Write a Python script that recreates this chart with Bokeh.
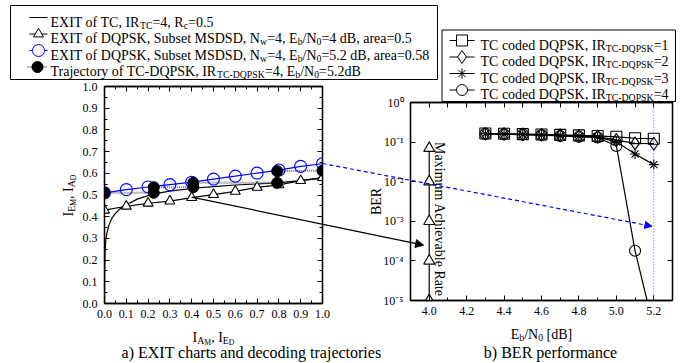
import math
from bokeh.plotting import figure
from bokeh.models import (Range1d, LinearAxis, LogAxis, FixedTicker, CustomJSTickFormatter,
                          NumeralTickFormatter, Arrow, NormalHead, Span)
from bokeh.core.properties import value
from bokeh.embed import file_html
from bokeh.resources import INLINE

# ---------------- data: a) EXIT chart ----------------
exit_ia = [0.0, 0.1, 0.2, 0.3, 0.4, 0.5, 0.6, 0.7, 0.8, 0.9, 1.0]
exit_dqpsk_4db = [0.430, 0.448, 0.462, 0.472, 0.488, 0.502, 0.517, 0.535, 0.547, 0.566, 0.580]
exit_dqpsk_52db = [0.510, 0.525, 0.537, 0.548, 0.559, 0.573, 0.587, 0.601, 0.615, 0.632, 0.644]
exit_tc_ie = [0.0, 0.0005, 0.002, 0.005, 0.01, 0.02, 0.035, 0.05, 0.075, 0.1, 0.15, 0.2,
              0.226, 0.3, 0.407, 0.5, 0.6, 0.7, 0.792, 0.9, 1.0]
exit_tc_ia = [0.0, 0.12, 0.22, 0.28, 0.32, 0.36, 0.395, 0.415, 0.44, 0.455, 0.481, 0.497,
              0.505, 0.518, 0.531, 0.539, 0.546, 0.551, 0.556, 0.566, 0.578]
traj_x = [0.0, 0.226, 0.226, 0.407, 0.407, 0.792, 0.792, 1.0]
traj_y = [0.510, 0.510, 0.536, 0.536, 0.556, 0.556, 0.610, 0.612]
exit_ticks = [0.0, 0.1, 0.2, 0.3, 0.4, 0.5, 0.6, 0.7, 0.8, 0.9, 1.0]
exit_minor = [0.05, 0.15, 0.25, 0.35, 0.45, 0.55, 0.65, 0.75, 0.85, 0.95]

# ---------------- data: b) BER ----------------
ebn0_db = [4.3, 4.4, 4.5, 4.6, 4.7, 4.8, 4.9, 5.0, 5.1, 5.2]
ber_ir1 = [0.165, 0.162, 0.159, 0.156, 0.152, 0.148, 0.143, 0.136, 0.125, 0.122]
ber_ir2 = [0.163, 0.160, 0.157, 0.153, 0.148, 0.143, 0.138, 0.112, 0.093, 0.091]
ber_ir3 = [0.162, 0.159, 0.156, 0.151, 0.145, 0.139, 0.134, 0.102, 0.050, 0.027]
ber_ir4 = [0.161, 0.158, 0.155, 0.150, 0.143, 0.136, 0.131, 0.080, 1.8e-4, 2.0e-6]
mar_ebn0 = [4.0, 4.0, 4.0, 4.0, 4.0]
mar_ber = [0.07, 1e-2, 1e-3, 1e-4, 1e-5]
ber_x_ticks = [4.0, 4.2, 4.4, 4.6, 4.8, 5.0, 5.2]
ber_x_minor = [3.9, 4.1, 4.3, 4.5, 4.7, 4.9, 5.1, 5.3]
ber_y_ticks = [1e-5, 1e-4, 1e-3, 1e-2, 1e-1, 1.0]
ebn0_target = 5.2

# annotation anchors (arrows from EXIT chart to BER chart)
arrow_black_from = (0.40, 0.49)
arrow_black_to = (3.97, 2.5e-4)
arrow_blue_from = (1.0, 0.645)
arrow_blue_to = (5.19, 7.5e-4)

# ---------------- layout ----------------
W, H = 694, 363
FONT = "Liberation Serif"
AXFONT = "'Liberation Serif', serif"
LF = dict(left=104, right=322, top=86, bottom=303)
RF = dict(left=410, right=672, top=102, bottom=300)
LX = (0.0, 1.0); LY = (0.0, 1.0)
RX = (3.9, 5.3); RY = (1e-5, 1.0)
ABS = {"position": "absolute", "left": "0px", "top": "0px"}


def left_px(x, y):
    return (LF["left"] + (x - LX[0]) / (LX[1] - LX[0]) * (LF["right"] - LF["left"]),
            LF["bottom"] - (y - LY[0]) / (LY[1] - LY[0]) * (LF["bottom"] - LF["top"]))


def right_px(x, y):
    ly0, ly1 = math.log10(RY[0]), math.log10(RY[1])
    return (RF["left"] + (x - RX[0]) / (RX[1] - RX[0]) * (RF["right"] - RF["left"]),
            RF["bottom"] - (math.log10(y) - ly0) / (ly1 - ly0) * (RF["bottom"] - RF["top"]))


def style_axis(ax, labels=True):
    ax.axis_line_color = "black"
    ax.axis_line_width = 1.3
    ax.major_tick_in = 5
    ax.major_tick_out = 0
    ax.minor_tick_in = 3
    ax.minor_tick_out = 0
    ax.major_tick_line_color = "black"
    ax.minor_tick_line_color = "black"
    ax.major_label_text_font = AXFONT
    ax.major_label_text_font_size = "12px"
    ax.major_label_text_color = "black"
    ax.major_label_standoff = 6
    if not labels:
        ax.formatter = CustomJSTickFormatter(code="return '';")


# ---------------- left figure ----------------
pl = figure(width=W, height=H, x_range=Range1d(*LX), y_range=Range1d(*LY), title=None,
            output_backend="svg", toolbar_location=None,
            min_border_left=LF["left"], min_border_right=W - LF["right"],
            min_border_top=LF["top"], min_border_bottom=H - LF["bottom"], styles=ABS)
pl.grid.visible = False
pl.outline_line_color = "black"
pl.outline_line_width = 1.3
pl.background_fill_color = "white"
pl.border_fill_color = "white"
for ax in pl.xaxis:
    ax.ticker = FixedTicker(ticks=exit_ticks, minor_ticks=exit_minor)
    ax.formatter = NumeralTickFormatter(format="0.0")
    style_axis(ax)
for ax in pl.yaxis:
    ax.ticker = FixedTicker(ticks=exit_ticks, minor_ticks=exit_minor)
    ax.formatter = NumeralTickFormatter(format="0.0")
    style_axis(ax)
    ax.major_label_standoff = 7
ta = LinearAxis(ticker=FixedTicker(ticks=exit_ticks, minor_ticks=exit_minor))
style_axis(ta, labels=False)
pl.add_layout(ta, "above")
ra = LinearAxis(ticker=FixedTicker(ticks=exit_ticks, minor_ticks=exit_minor))
style_axis(ra, labels=False)
pl.add_layout(ra, "right")

pl.line(exit_tc_ie, exit_tc_ia, line_color="black", line_width=1.2)
pl.line(exit_ia, exit_dqpsk_4db, line_color="black", line_width=1.2)
pl.scatter(exit_ia, exit_dqpsk_4db, marker="triangle", size=10, fill_color="white",
           line_color="black", line_width=1.1)
pl.line(traj_x, traj_y, line_color="#777777", line_width=2, line_dash="1 1")
pl.line(exit_ia, exit_dqpsk_52db, line_color="blue", line_width=1.2)
pl.scatter(exit_ia, exit_dqpsk_52db, marker="circle", size=12, fill_color="white",
           fill_alpha=0.0, line_color="blue", line_width=1.1)
pl.scatter(traj_x, traj_y, marker="circle", size=11, fill_color="black", line_color="black")

# ---------------- right figure ----------------
pr = figure(width=W, height=H, x_range=Range1d(*RX), y_range=Range1d(*RY), y_axis_type="log",
            title=None, output_backend="svg", toolbar_location=None,
            min_border_left=RF["left"], min_border_right=W - RF["right"],
            min_border_top=RF["top"], min_border_bottom=H - RF["bottom"], styles=ABS)
pr.grid.visible = False
pr.outline_line_color = "black"
pr.outline_line_width = 1.3
pr.background_fill_color = None
pr.border_fill_color = None
sup_fmt = CustomJSTickFormatter(code="""
const e = Math.round(Math.log10(tick));
const m = {"0":"\u2070","1":"\u00b9","2":"\u00b2","3":"\u00b3","4":"\u2074","5":"\u2075",
           "6":"\u2076","7":"\u2077","8":"\u2078","9":"\u2079","-":"\u207b"};
return "10" + String(e).split("").map(c => m[c]).join("");
""")
for ax in pr.xaxis:
    ax.ticker = FixedTicker(ticks=ber_x_ticks, minor_ticks=ber_x_minor)
    ax.formatter = NumeralTickFormatter(format="0.0")
    style_axis(ax)
for ax in pr.yaxis:
    ax.ticker = FixedTicker(ticks=ber_y_ticks, minor_ticks=[])
    ax.formatter = sup_fmt
    style_axis(ax)
    ax.major_label_standoff = 7
ta2 = LinearAxis(ticker=FixedTicker(ticks=ber_x_ticks, minor_ticks=ber_x_minor))
style_axis(ta2, labels=False)
ta2.minor_tick_in = 5
pr.add_layout(ta2, "above")
ra2 = LogAxis(ticker=FixedTicker(ticks=ber_y_ticks, minor_ticks=[]))
style_axis(ra2, labels=False)
pr.add_layout(ra2, "right")

pr.add_layout(Span(location=ebn0_target, dimension="height", line_color="#5555ff",
                   line_width=1, line_dash="1 2"))
pr.line(mar_ebn0, mar_ber, line_color="black", line_width=1.2)
pr.scatter(mar_ebn0, mar_ber, marker="triangle", size=11, fill_color="white",
           line_color="black", line_width=1.1)
pr.text(x=[mar_ebn0[0]], y=[0.1], text=["Maximum Achievable Rate"], angle=-math.pi / 2,
        x_offset=10, text_align="left", text_baseline="middle",
        text_font=value(FONT), text_font_size="14px", text_color="black")
series = [(ber_ir1, "square", 11), (ber_ir2, "diamond", 13),
          (ber_ir3, "asterisk", 10), (ber_ir4, "circle", 11)]
for ys, mk, sz in series:
    pr.line(ebn0_db, ys, line_color="black", line_width=1.2)
    pr.scatter(ebn0_db, ys, marker=mk, size=sz, fill_color=None, line_color="black",
               line_width=1.1)

# ---------------- overlay (legends, labels, arrows) ----------------
po = figure(width=W, height=H, x_range=Range1d(0, W), y_range=Range1d(H, 0), title=None,
            output_backend="svg", toolbar_location=None,
            x_axis_location=None, y_axis_location=None,
            min_border_left=0, min_border_right=0, min_border_top=0, min_border_bottom=0,
            styles=ABS)
po.grid.visible = False
po.outline_line_color = None
po.background_fill_color = None
po.border_fill_color = None

TW = {' ': 250, '!': 333, '(': 333, ')': 333, ',': 250, '-': 333, '.': 250, '/': 278,
      ':': 278, '=': 564, '[': 333, ']': 333,
      'A': 722, 'B': 667, 'C': 667, 'D': 722, 'E': 611, 'F': 556, 'G': 722, 'H': 722,
      'I': 333, 'J': 389, 'K': 722, 'L': 611, 'M': 889, 'N': 722, 'O': 722, 'P': 556,
      'Q': 722, 'R': 667, 'S': 556, 'T': 611, 'U': 722, 'V': 722, 'W': 944, 'X': 722,
      'Y': 722, 'Z': 611,
      'a': 444, 'b': 500, 'c': 444, 'd': 500, 'e': 444, 'f': 333, 'g': 500, 'h': 500,
      'i': 278, 'j': 278, 'k': 500, 'l': 278, 'm': 778, 'n': 500, 'o': 500, 'p': 500,
      'q': 500, 'r': 333, 's': 389, 't': 278, 'u': 500, 'v': 500, 'w': 722, 'x': 500,
      'y': 500, 'z': 444}
SCALE = {0: 1.0, 1: 0.7, 2: 0.55}
SHIFT = {0: 0.0, 1: 0.22, 2: 0.38}


def tw(s, size):
    return sum(TW.get(c, 500) for c in s) * size / 1000.0


def rich(x, y, segs, size, align="left", angle=0.0, color="black"):
    widths = [tw(t, size * SCALE[l]) for t, l in segs]
    total = sum(widths)
    pos = {"left": 0.0, "center": -total / 2, "right": -total}[align]
    ax_, ay_ = math.cos(angle), -math.sin(angle)
    dx_, dy_ = math.sin(angle), math.cos(angle)
    for (t, l), w in zip(segs, widths):
        fs = size * SCALE[l]
        lead = len(t) - len(t.lstrip(" "))
        p0 = pos + tw(" " * lead, fs)
        sh = SHIFT[l] * size
        po.text(x=[x + ax_ * p0 + dx_ * sh], y=[y + ay_ * p0 + dy_ * sh], text=[t.strip(" ")],
                angle=angle, text_font=value(FONT),
                text_font_size=f"{fs:.1f}px", text_align="left",
                text_baseline="alphabetic", text_color=color)
        pos += w


# left legend
po.quad(left=[10], right=[437], top=[5], bottom=[79], fill_color="white",
        line_color="black", line_width=1)
lrows = [17, 33.5, 50, 66.5]
po.line([29, 47], [lrows[0]] * 2, line_color="black", line_width=1.2)
po.line([29, 47], [lrows[1]] * 2, line_color="black", line_width=1.2)
po.scatter([38], [lrows[1]], marker="triangle", size=10, fill_color="white", line_color="black")
po.line([29, 47], [lrows[2]] * 2, line_color="blue", line_width=1.2)
po.scatter([38], [lrows[2]], marker="circle", size=12, fill_color="white", line_color="blue")
po.line([27, 47], [lrows[3]] * 2, line_color="#777777", line_width=2, line_dash="1 1")
po.scatter([37], [lrows[3]], marker="circle", size=11, fill_color="black", line_color="black")
ltexts = [
    [("EXIT of TC, IR", 0), ("TC", 1), ("=4, R", 0), ("c", 1), ("=0.5", 0)],
    [("EXIT of DQPSK, Subset MSDSD, N", 0), ("w", 1), ("=4, E", 0), ("b", 1), ("/N", 0),
     ("0", 1), ("=4 dB, area=0.5", 0)],
    [("EXIT of DQPSK, Subset MSDSD, N", 0), ("w", 1), ("=4, E", 0), ("b", 1), ("/N", 0),
     ("0", 1), ("=5.2 dB, area=0.58", 0)],
    [("Trajectory of TC-DQPSK, IR", 0), ("TC-DQPSK", 1), ("=4, E", 0), ("b", 1), ("/N", 0),
     ("0", 1), ("=5.2dB", 0)],
]
for ry, segs in zip(lrows, ltexts):
    rich(50, ry + 4.7, segs, 14)

# right legend
po.quad(left=[441.5], right=[675], top=[29.5], bottom=[101], fill_color="white",
        line_color="black", line_width=1)
rrows = [40, 56.5, 73, 89.5]
rmarks = [("square", 11), ("diamond", 13), ("asterisk", 10), ("circle", 11)]
for i, (ry, (mk, sz)) in enumerate(zip(rrows, rmarks)):
    po.line([449, 474], [ry, ry], line_color="black", line_width=1.2)
    po.scatter([461.5], [ry], marker=mk, size=sz, fill_color="white", line_color="black")
    rich(480, ry + 4.7, [("TC coded DQPSK, IR", 0), ("TC-DQPSK", 1), (f"={i + 1}", 0)], 14)

# axis labels
rich(213, 337, [("I", 0), ("A", 1), ("M", 2), (", I", 0), ("E", 1), ("D", 2)], 14, align="center")
rich(68, 195, [("I", 0), ("E", 1), ("M", 2), (", I", 0), ("A", 1), ("D", 2)], 14,
     align="center", angle=math.pi / 2)
rich(541, 334, [("E", 0), ("b", 1), ("/N", 0), ("0", 1), (" [dB]", 0)], 14, align="center")
rich(376, 201, [("BER", 0)], 14, align="center", angle=math.pi / 2)

# captions
rich(251, 352, [("a) EXIT charts and decoding trajectories", 0)], 16, align="center")
rich(550, 352, [("b) BER performance", 0)], 16, align="center")

# arrows from EXIT chart to BER chart
bx0, by0 = left_px(*arrow_black_from)
bx1, by1 = right_px(*arrow_black_to)
po.add_layout(Arrow(x_start=bx0, y_start=by0, x_end=bx1, y_end=by1, line_color="black",
                    line_width=1.2,
                    end=NormalHead(size=8, fill_color="black", line_color="black")))
cx0, cy0 = left_px(*arrow_blue_from)
cx1, cy1 = right_px(*arrow_blue_to)
po.add_layout(Arrow(x_start=cx0, y_start=cy0, x_end=cx1, y_end=cy1, line_color="blue",
                    line_width=1.2, line_dash="4 3",
                    end=NormalHead(size=7, fill_color="blue", line_color="blue")))

open("out.html", "w").write(file_html([pl, pr, po], INLINE))
